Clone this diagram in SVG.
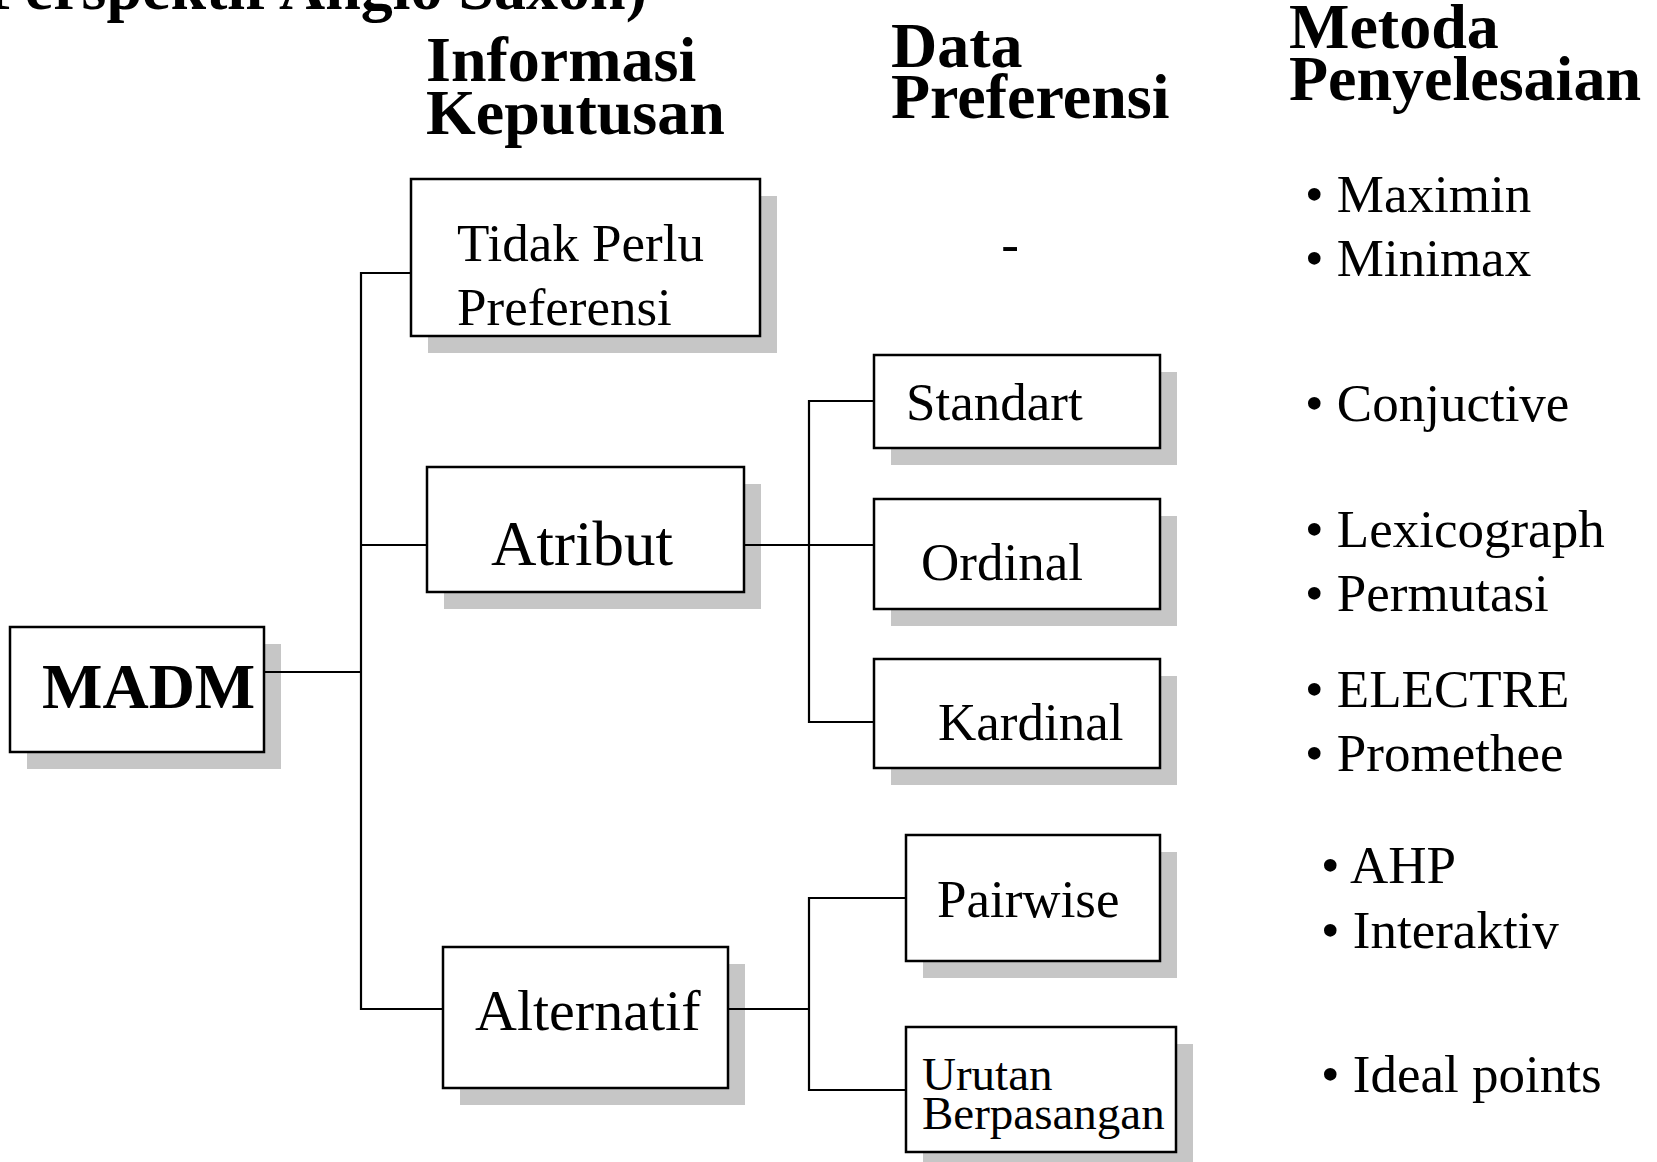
<svg xmlns="http://www.w3.org/2000/svg" width="1657" height="1162" viewBox="0 0 1657 1162">
<style>
.bg{fill:#ffffff}
.sh{fill:#c6c6c6;stroke:none}
.bx{fill:#ffffff;stroke:#000000;stroke-width:2.5}
.ln{fill:none;stroke:#000000;stroke-width:2.2}
.hd{font-family:"Liberation Serif","Times New Roman",serif;font-weight:bold;font-size:64px;fill:#000}
.t53{font-family:"Liberation Serif","Times New Roman",serif;font-size:53px;fill:#000}
.t64{font-family:"Liberation Serif","Times New Roman",serif;font-size:63px;fill:#000}
</style>
<rect class="bg" x="0" y="0" width="1657" height="1162"/>
<text class="hd" x="647" y="9" text-anchor="end">Perspektif Anglo Saxon)</text>
<g id="headers">
<text class="hd" x="426" y="81">Informasi</text>
<text class="hd" x="426" y="134">Keputusan</text>
<text class="hd" x="891" y="67">Data</text>
<text class="hd" x="891" y="118">Preferensi</text>
<text class="hd" x="1289" y="48">Metoda</text>
<text class="hd" x="1289" y="100">Penyelesaian</text>
</g>
<g id="shadows">
<rect class="sh" x="27" y="644" width="254" height="125"/>
<rect class="sh" x="428" y="196" width="349" height="157"/>
<rect class="sh" x="444" y="484" width="317" height="125"/>
<rect class="sh" x="460" y="964" width="285" height="141"/>
<rect class="sh" x="891" y="372" width="286" height="93"/>
<rect class="sh" x="891" y="516" width="286" height="110"/>
<rect class="sh" x="891" y="676" width="286" height="109"/>
<rect class="sh" x="923" y="852" width="254" height="126"/>
<rect class="sh" x="923" y="1044" width="270" height="125"/>
</g>
<g id="connectors">
<polyline class="ln" points="265,672 361,672"/>
<polyline class="ln" points="411,273 361,273 361,1009 443,1009"/>
<polyline class="ln" points="361,545 427,545"/>
<polyline class="ln" points="744,545 874,545"/>
<polyline class="ln" points="874,401 809,401 809,722 874,722"/>
<polyline class="ln" points="728,1009 809,1009"/>
<polyline class="ln" points="906,898 809,898 809,1090 906,1090"/>
</g>
<g id="madm">
<rect class="bx" x="10" y="627" width="254" height="125"/>
<text class="hd" x="42" y="708">MADM</text>
</g>
<g id="tidak-perlu-preferensi">
<rect class="bx" x="411" y="179" width="349" height="157"/>
<text class="t53" x="457" y="261">Tidak Perlu</text>
<text class="t53" x="457" y="325">Preferensi</text>
</g>
<g id="atribut">
<rect class="bx" x="427" y="467" width="317" height="125"/>
<text class="t64" x="491" y="565">Atribut</text>
</g>
<g id="alternatif">
<rect class="bx" x="443" y="947" width="285" height="141"/>
<text class="t64" x="475" y="1030" style="font-size:58px">Alternatif</text>
</g>
<g id="standart">
<rect class="bx" x="874" y="355" width="286" height="93"/>
<text class="t53" x="906" y="420">Standart</text>
</g>
<g id="ordinal">
<rect class="bx" x="874" y="499" width="286" height="110"/>
<text class="t53" x="921" y="580">Ordinal</text>
</g>
<g id="kardinal">
<rect class="bx" x="874" y="659" width="286" height="109"/>
<text class="t53" x="938" y="740">Kardinal</text>
</g>
<g id="pairwise">
<rect class="bx" x="906" y="835" width="254" height="126"/>
<text class="t53" x="937" y="917">Pairwise</text>
</g>
<g id="urutan-berpasangan">
<rect class="bx" x="906" y="1027" width="270" height="125"/>
<text class="t53" x="922" y="1090" style="font-size:47px">Urutan</text>
<text class="t53" x="922" y="1129" style="font-size:47px">Berpasangan</text>
</g>
<g id="dash">
<text class="t53" x="1010" y="262" text-anchor="middle">-</text>
</g>
<g id="methods">
<text class="t53" x="1305" y="212">• Maximin</text>
<text class="t53" x="1305" y="276">• Minimax</text>
<text class="t53" x="1305" y="421">• Conjuctive</text>
<text class="t53" x="1305" y="547">• Lexicograph</text>
<text class="t53" x="1305" y="611">• Permutasi</text>
<text class="t53" x="1305" y="707">• ELECTRE</text>
<text class="t53" x="1305" y="771">• Promethee</text>
<text class="t53" x="1321" y="883">• AHP</text>
<text class="t53" x="1321" y="948">• Interaktiv</text>
<text class="t53" x="1321" y="1092">• Ideal points</text>
</g>
</svg>
